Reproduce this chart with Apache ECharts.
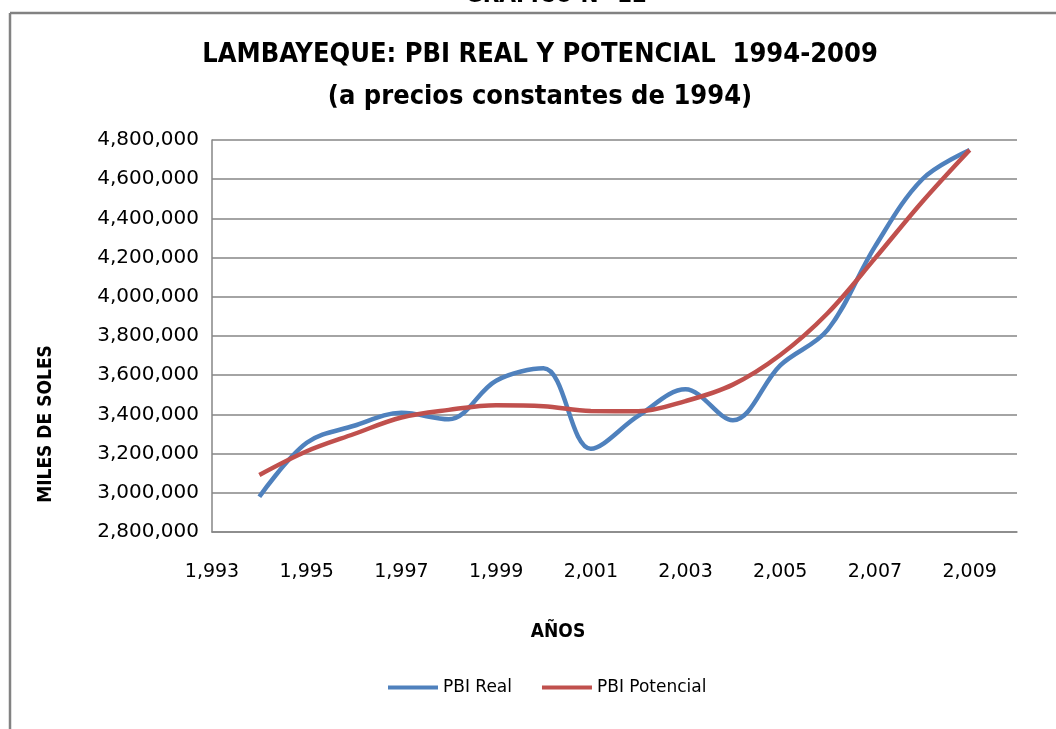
<!DOCTYPE html>
<html>
<head>
<meta charset="utf-8">
<script src="https://cdn.jsdelivr.net/npm/echarts@6/dist/echarts.min.js"></script>
<style>
html,body{margin:0;padding:0;background:#fff;}
#chart{width:1056px;height:729px;}
</style>
</head>
<body>
<div id="chart"></div>
<script>
var years = [1994,1995,1996,1997,1998,1999,2000,2001,2002,2003,2004,2005,2006,2007,2008,2009];
var pbiReal = [2980000,3255000,3342000,3408000,3375000,3572000,3635000,3225000,3392000,3528000,3370000,3650000,3831000,4256000,4600000,4749000];
var pbiPotencial = [3091000,3212000,3300000,3384000,3423000,3447000,3442000,3417000,3416000,3468000,3552000,3703000,3916000,4196000,4485000,4749000];
var yTicks = {min: 2800000, max: 4800000, interval: 200000};
var xTicks = {min: 1993, max: 2010, interval: 2};

function pair(xs, ys){ return xs.map(function(x,i){ return [x, ys[i]]; }); }
function fmt(v){ return Number(v).toLocaleString('en-US'); }

var chart = echarts.init(document.getElementById('chart'), null, {renderer:'canvas'});
var FONT = "'DejaVu Sans', sans-serif";
var BFONT = "'Liberation Sans Narrow', 'DejaVu Sans Condensed', 'Liberation Sans', sans-serif";
chart.setOption({
  animation: false,
  backgroundColor: '#ffffff',
  grid: {left: 212, right: 39, top: 140, bottom: 197, containLabel: false},
  xAxis: {
    type: 'value', min: xTicks.min, max: xTicks.max, interval: xTicks.interval,
    axisLine: {show: true, lineStyle: {color: '#868686', width: 1.5}},
    axisTick: {show: false},
    splitLine: {show: false},
    axisLabel: {showMaxLabel: false, formatter: fmt, color: '#000', fontFamily: FONT, fontSize: 19, margin: 31}
  },
  yAxis: {
    type: 'value', min: yTicks.min, max: yTicks.max, interval: yTicks.interval,
    axisLine: {show: true, lineStyle: {color: '#868686', width: 1.5}},
    axisTick: {show: false},
    splitLine: {show: true, lineStyle: {color: '#868686', width: 1.5}},
    axisLabel: {formatter: fmt, color: '#000', fontFamily: FONT, fontSize: 20, margin: 13}
  },
  legend: {
    bottom: 28, left: 383,
    itemWidth: 50, itemHeight: 4, itemGap: 30,
    icon: 'rect',
    textStyle: {color: '#000', fontFamily: FONT, fontSize: 17},
    data: ['PBI Real', 'PBI Potencial']
  },
  series: [
    {name: 'PBI Real', type: 'line', smooth: 0.35, showSymbol: false, symbol: 'none',
     data: pair(years, pbiReal), lineStyle: {color: '#4F81BD', width: 4.5}, itemStyle: {color: '#4F81BD'}},
    {name: 'PBI Potencial', type: 'line', smooth: 0.35, showSymbol: false, symbol: 'none',
     data: pair(years, pbiPotencial), lineStyle: {color: '#C0504D', width: 4.5}, itemStyle: {color: '#C0504D'}}
  ],
  graphic: [
    {type: 'line', shape: {x1: 10, y1: 13, x2: 1056, y2: 13}, style: {stroke: '#828282', lineWidth: 2.5}},
    {type: 'line', shape: {x1: 10, y1: 13, x2: 10, y2: 729}, style: {stroke: '#828282', lineWidth: 2.5}},
    {type: 'text', style: {x: 556, y: 8, text: 'GRÁFICO N° 12', textAlign: 'center', textVerticalAlign: 'bottom', font: 'bold 24px ' + BFONT, fill: '#000'}},
    {type: 'text', style: {x: 540, y: 55, text: 'LAMBAYEQUE: PBI REAL Y POTENCIAL  1994-2009', textAlign: 'center', textVerticalAlign: 'middle', font: 'bold 27px ' + BFONT, fill: '#000'}},
    {type: 'text', style: {x: 540, y: 97, text: '(a precios constantes de 1994)', textAlign: 'center', textVerticalAlign: 'middle', font: 'bold 27px ' + BFONT, fill: '#000'}},
    {type: 'text', x: 46, y: 424, rotation: Math.PI/2, style: {x: 0, y: 0, text: 'MILES DE SOLES', textAlign: 'center', textVerticalAlign: 'middle', font: 'bold 19px ' + BFONT, fill: '#000'}},
    {type: 'text', style: {x: 558, y: 632, text: 'AÑOS', textAlign: 'center', textVerticalAlign: 'middle', font: 'bold 19px ' + BFONT, fill: '#000'}}
  ]
});
</script>
</body>
</html>
